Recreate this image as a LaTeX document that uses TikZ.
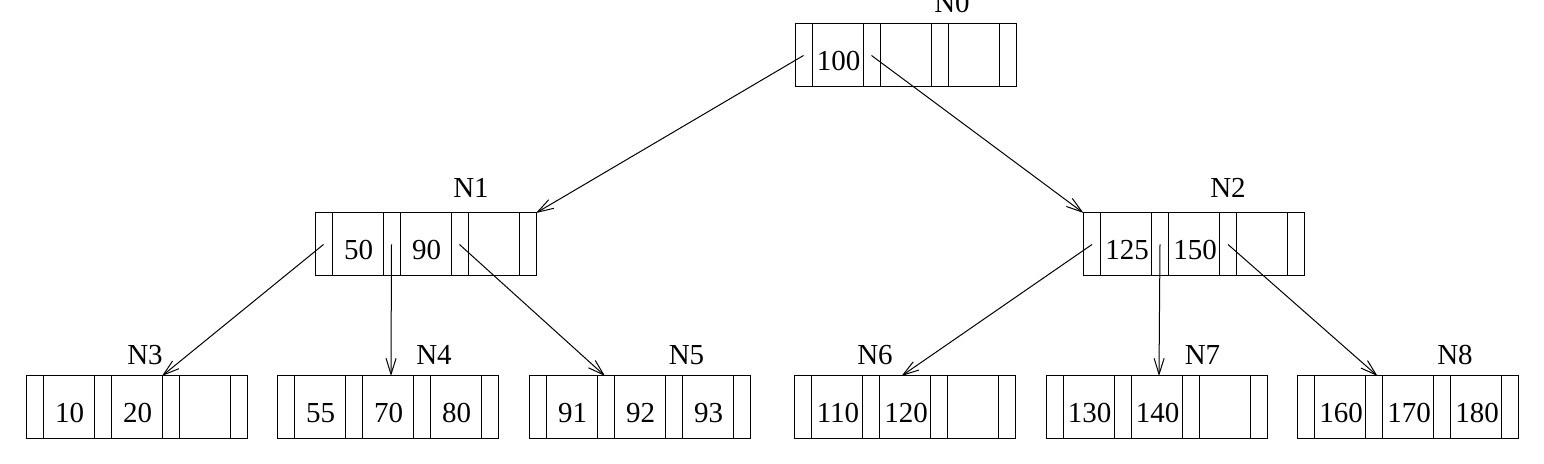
\documentclass[tikz,border=0pt]{standalone}
\usepackage{fontspec}
\setmainfont{Liberation Serif}
\usetikzlibrary{arrows.meta}
\tikzset{
  bbox/.style={draw, line width=0.5pt, rectangle, minimum width=110.5pt, minimum height=31.5pt, inner sep=0pt, outer sep=0pt, anchor=north west},
  keytxt/.style={font=\fontsize{14.5}{16}\selectfont, anchor=base, inner sep=0pt},
  lbl/.style={font=\fontsize{14.5}{16}\selectfont, anchor=base, inner sep=0pt},
  divider/.style={line width=0.5pt},
  ptr/.style={line width=0.5pt, -{Straight Barb[length=8pt,width=5pt]}},
}
\newcommand\bnode[6]{%
  \node[bbox] (#1) at (#2,#3) {};
  \foreach \d in {17,68,85,136,153,204}
    \draw[divider] ([xshift=\d*0.5pt]#1.north west) -- ([xshift=\d*0.5pt]#1.south west);
  \node[keytxt] (#1k1) at ([xshift=43.5pt*0.5, yshift=-46.5pt*0.5]#1.north west) {#4};
  \node[keytxt] (#1k2) at ([xshift=111.5pt*0.5, yshift=-46.5pt*0.5]#1.north west) {#5};
  \node[keytxt] (#1k3) at ([xshift=179.5pt*0.5, yshift=-46.5pt*0.5]#1.north west) {#6};
  \foreach \i/\px in {0/8.5,1/76.5,2/144.5,3/212.5}
    \coordinate (#1p\i) at ([xshift=\px pt*0.5, yshift=-31.5pt*0.5]#1.north west);
}
\begin{document}
\begin{tikzpicture}[x=0.5pt, y=-0.5pt]
\useasboundingbox (0,0) rectangle (1544,464);
\bnode{N0}{795}{24}{100}{}{}
\bnode{N1}{315}{213}{50}{90}{}
\bnode{N2}{1083.5}{213}{125}{150}{}
\bnode{N3}{26}{376}{10}{20}{}
\bnode{N4}{277}{376}{55}{70}{80}
\bnode{N5}{529}{376}{91}{92}{93}
\bnode{N6}{794.5}{376}{110}{120}{}
\bnode{N7}{1046}{376}{130}{140}{}
\bnode{N8}{1297.5}{376}{160}{170}{180}
\node[lbl] (lN0) at (952,13) {N0};
\node[lbl] (lN1) at (471,198) {N1};
\node[lbl] (lN2) at (1228,198) {N2};
\node[lbl] (lN3) at (145,365) {N3};
\node[lbl] (lN4) at (434,365) {N4};
\node[lbl] (lN5) at (686.5,365) {N5};
\node[lbl] (lN6) at (875,365) {N6};
\node[lbl] (lN7) at (1202.5,365) {N7};
\node[lbl] (lN8) at (1455,365) {N8};
\draw[ptr] (N0p0) -- (N1.north east);
\draw[ptr] (N0p1) -- (N2.north west);
\draw[ptr] (N1p0) -- ([xshift=136*0.5pt]N3.north west);
\draw[ptr] (N1p1) -- ([xshift=114*0.5pt]N4.north west);
\draw[ptr] (N1p2) -- ([xshift=76*0.5pt]N5.north west);
\draw[ptr] (N2p0) -- ([xshift=107*0.5pt]N6.north west);
\draw[ptr] (N2p1) -- ([xshift=113*0.5pt]N7.north west);
\draw[ptr] (N2p2) -- ([xshift=80*0.5pt]N8.north west);
\end{tikzpicture}
\end{document}
